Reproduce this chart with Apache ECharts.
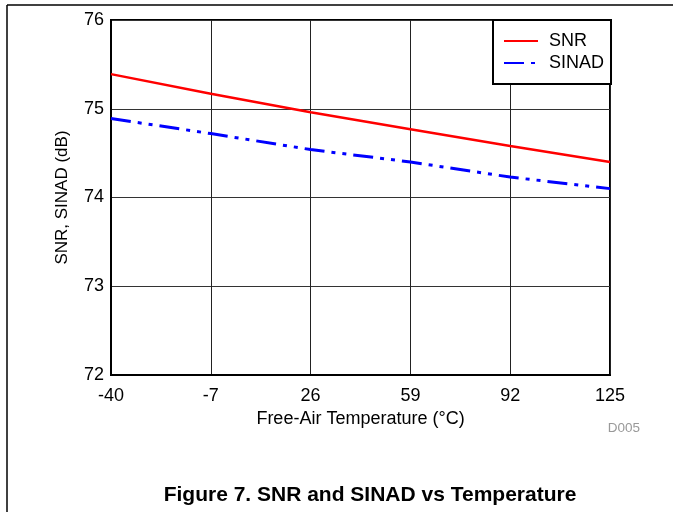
<!DOCTYPE html>
<html>
<head>
<meta charset="utf-8">
<script src="https://cdn.jsdelivr.net/npm/echarts@6/dist/echarts.min.js"></script>
<style>html,body{margin:0;padding:0;background:#fff;}#c{width:673px;height:512px;}</style>
</head>
<body>
<div id="c"></div>
<script>
const temperatures = ['-40', '-7', '26', '59', '92', '125'];
const snr = [75.39, 75.17, 74.96, 74.77, 74.58, 74.40];
const sinad = [74.89, 74.72, 74.54, 74.40, 74.23, 74.10];
const yTicks = [72, 73, 74, 75, 76];

const font = "'Liberation Sans', Arial, sans-serif";
const chart = echarts.init(document.getElementById('c'), null, {renderer: 'canvas'});
chart.setOption({
  animation: false,
  backgroundColor: '#fff',
  grid: {left: 111, top: 20, right: 63, bottom: 137, show: true, borderColor: '#000', borderWidth: 2, backgroundColor: 'transparent'},
  legend: {
    orient: 'vertical', left: 493, top: 20,
    padding: [10, 7, 10, 10], itemGap: 0, itemWidth: 34, itemHeight: 22,
    backgroundColor: '#fff', borderColor: '#000', borderWidth: 2, borderRadius: 0,
    itemStyle: {opacity: 0},
    textStyle: {fontFamily: font, fontSize: 18, color: '#000', lineHeight: 22, padding: [0, 0, 0, 6]},
    data: ['SNR', 'SINAD']
  },
  xAxis: {
    type: 'category', data: temperatures, boundaryGap: false,
    name: 'Free-Air Temperature (°C)', nameLocation: 'middle', nameGap: 35,
    nameTextStyle: {fontFamily: font, fontSize: 18, color: '#000'},
    axisLine: {show: true, lineStyle: {color: '#000', width: 2}},
    axisTick: {show: false},
    axisLabel: {fontFamily: font, fontSize: 18, color: '#000', margin: 12, interval: 0},
    splitLine: {show: true, lineStyle: {color: '#222', width: 1}}
  },
  yAxis: {
    type: 'value', min: 72, max: 76, interval: 1,
    name: 'SNR, SINAD (dB)', nameLocation: 'middle', nameGap: 40,
    nameTextStyle: {fontFamily: font, fontSize: 17, color: '#000'},
    axisLine: {show: true, lineStyle: {color: '#000', width: 2}},
    axisTick: {show: false},
    axisLabel: {fontFamily: font, fontSize: 18, color: '#000', margin: 7,
      formatter: v => yTicks.includes(v) ? String(v) : ''},
    splitLine: {show: true, lineStyle: {color: '#333', width: 1}}
  },
  series: [
    {name: 'SNR', type: 'line', data: snr, symbol: 'none', smooth: false,
     lineStyle: {color: '#ff0000', width: 2.5}, itemStyle: {color: '#ff0000'}},
    {name: 'SINAD', type: 'line', data: sinad, symbol: 'none', smooth: false,
     lineStyle: {color: '#0000ff', width: 3, type: [20, 7, 4, 7, 4, 7]}, itemStyle: {color: '#0000ff'}}
  ],
  graphic: [
    {type: 'line', shape: {x1: 7, y1: 5, x2: 673, y2: 5}, style: {stroke: '#000', lineWidth: 1.5}},
    {type: 'line', shape: {x1: 7, y1: 5, x2: 7, y2: 512}, style: {stroke: '#000', lineWidth: 1.5}},
    {type: 'text', x: 640, y: 428, style: {text: 'D005', font: '13.5px ' + font, fill: '#999', textAlign: 'right', textVerticalAlign: 'middle'}},
    {type: 'text', x: 370, y: 495, style: {text: 'Figure 7. SNR and SINAD vs Temperature', font: 'bold 21px ' + font, fill: '#000', textAlign: 'center', textVerticalAlign: 'middle'}}
  ]
});
</script>
</body>
</html>
